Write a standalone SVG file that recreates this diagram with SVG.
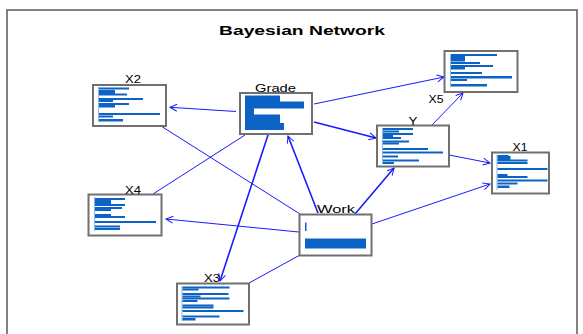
<svg xmlns="http://www.w3.org/2000/svg" width="583" height="334" viewBox="0 0 583 334">
  <style>
    .frame { fill: #ffffff; stroke: #5a5a5a; stroke-width: 1.5; }
    .title { font-family: "Liberation Sans", Arial, sans-serif; font-size: 13px; font-weight: bold; fill: #000; }
    .lbl { font-family: "Liberation Sans", Arial, sans-serif; font-size: 11px; fill: #000; text-anchor: middle; }
    .box { fill: #ffffff; stroke: #707070; stroke-width: 2; }
    .bar { fill: #0b63c6; }
    .axis { stroke: #8fb6e6; stroke-width: 1; }
    .edge { fill: none; stroke: #1a1aff; stroke-width: 1; }
    .edge.thick { stroke-width: 1.6; }
  </style>
  <defs>
    <marker id="arrow" markerUnits="userSpaceOnUse" markerWidth="10" markerHeight="10" refX="8" refY="4" orient="auto">
      <path d="M1,0.5 L8,4 L1,7.5" fill="none" stroke="#1a1aff" stroke-width="1"/>
    </marker>
  </defs>

  <rect width="583" height="334" fill="#ffffff"/>
  <rect class="frame" x="7" y="10" width="570" height="340"/>
  <text class="title" x="219" y="35" textLength="166" lengthAdjust="spacingAndGlyphs">Bayesian Network</text>

  <!-- connectors -->
  <g id="edges">
    <line class="edge" x1="236" y1="111.5" x2="170" y2="107.3" marker-end="url(#arrow)"/>
    <line class="edge" x1="314" y1="104" x2="444" y2="77" marker-end="url(#arrow)"/>
    <line class="edge thick" x1="314" y1="122" x2="376" y2="138" marker-end="url(#arrow)"/>
    <line class="edge thick" x1="268" y1="135" x2="220" y2="281" marker-end="url(#arrow)"/>
    <line class="edge" x1="245" y1="135" x2="153" y2="194"/>
    <line class="edge thick" x1="318" y1="213" x2="288" y2="136" marker-end="url(#arrow)"/>
    <line class="edge" x1="299" y1="232" x2="166" y2="219" marker-end="url(#arrow)"/>
    <line class="edge thick" x1="355" y1="214" x2="394" y2="168" marker-end="url(#arrow)"/>
    <line class="edge" x1="372" y1="224" x2="490" y2="184" marker-end="url(#arrow)"/>
    <line class="edge" x1="300" y1="255" x2="249" y2="283"/>
    <line class="edge" x1="161" y1="126" x2="300" y2="214"/>
    <line class="edge" x1="432" y1="125" x2="463" y2="93" marker-end="url(#arrow)"/>
    <line class="edge" x1="449" y1="155" x2="490" y2="163" marker-end="url(#arrow)"/>
  </g>

  <!-- X2 -->
  <g id="node-x2">
    <rect class="box" x="93" y="85" width="73" height="41"/>
    <line class="axis" x1="98.5" y1="87" x2="98.5" y2="122"/>
    <rect class="bar" x="99" y="87.5" width="30" height="2"/>
    <rect class="bar" x="99" y="90" width="16" height="4.5"/>
    <rect class="bar" x="99" y="93.5" width="28" height="2"/>
    <rect class="bar" x="99" y="98" width="44" height="2"/>
    <rect class="bar" x="99" y="100" width="14" height="2"/>
    <rect class="bar" x="99" y="103" width="30" height="2"/>
    <rect class="bar" x="99" y="105" width="16" height="2.5"/>
    <rect class="bar" x="99" y="113" width="61" height="2"/>
    <rect class="bar" x="99" y="115.5" width="14" height="2"/>
    <rect class="bar" x="99" y="119" width="24" height="2.5"/>
    <text class="lbl" x="133" y="83" textLength="16" lengthAdjust="spacingAndGlyphs">X2</text>
  </g>

  <!-- Grade -->
  <g id="node-grade">
    <rect class="box" x="240" y="93" width="72" height="41"/>
    <rect class="bar" x="245" y="95.5" width="35" height="6.5"/>
    <rect class="bar" x="245" y="101.5" width="59" height="7"/>
    <rect class="bar" x="245" y="108" width="9" height="7"/>
    <rect class="bar" x="245" y="114.5" width="35" height="9"/>
    <rect class="bar" x="245" y="123" width="39" height="7"/>
    <text class="lbl" x="275.5" y="92" textLength="41" lengthAdjust="spacingAndGlyphs">Grade</text>
  </g>

  <!-- X5 -->
  <g id="node-x5">
    <rect class="box" x="444.5" y="51" width="73" height="41"/>
    <line class="axis" x1="450.5" y1="54" x2="450.5" y2="87"/>
    <rect class="bar" x="451" y="54" width="46" height="2"/>
    <rect class="bar" x="451" y="56" width="14" height="5.5"/>
    <rect class="bar" x="451" y="62" width="29" height="2"/>
    <rect class="bar" x="451" y="65" width="42" height="2"/>
    <rect class="bar" x="451" y="67" width="14" height="2.5"/>
    <rect class="bar" x="451" y="72" width="31" height="2"/>
    <rect class="bar" x="451" y="76" width="61" height="2.5"/>
    <rect class="bar" x="451" y="79" width="16" height="2"/>
    <rect class="bar" x="451" y="84" width="36" height="2.5"/>
    <text class="lbl" x="436" y="103" textLength="15" lengthAdjust="spacingAndGlyphs">X5</text>
  </g>

  <!-- Y -->
  <g id="node-y">
    <rect class="box" x="377" y="125.5" width="72" height="41"/>
    <line class="axis" x1="382.5" y1="128" x2="382.5" y2="164"/>
    <rect class="bar" x="383" y="128" width="30" height="2"/>
    <rect class="bar" x="383" y="130.5" width="16" height="2"/>
    <rect class="bar" x="383" y="133" width="30" height="2"/>
    <rect class="bar" x="383" y="135" width="10" height="2"/>
    <rect class="bar" x="383" y="137" width="18" height="2"/>
    <rect class="bar" x="383" y="140.5" width="26" height="2"/>
    <rect class="bar" x="383" y="142.5" width="16" height="2"/>
    <rect class="bar" x="383" y="148" width="45" height="2"/>
    <rect class="bar" x="383" y="151.5" width="60" height="2"/>
    <rect class="bar" x="383" y="155.5" width="15" height="2"/>
    <rect class="bar" x="383" y="159.5" width="36" height="2"/>
    <rect class="bar" x="383" y="162" width="11" height="2"/>
    <text class="lbl" x="413" y="125" textLength="9" lengthAdjust="spacingAndGlyphs">Y</text>
  </g>

  <!-- X1 -->
  <g id="node-x1">
    <rect class="box" x="492" y="152.5" width="57" height="41"/>
    <line class="axis" x1="497" y1="155" x2="497" y2="190"/>
    <rect class="bar" x="497.5" y="155" width="11" height="2"/>
    <rect class="bar" x="497.5" y="156" width="13" height="4.5"/>
    <rect class="bar" x="497.5" y="159.5" width="30" height="2"/>
    <rect class="bar" x="497.5" y="162" width="30" height="2"/>
    <rect class="bar" x="497.5" y="168" width="50" height="2"/>
    <rect class="bar" x="497.5" y="174" width="10" height="2"/>
    <rect class="bar" x="497.5" y="176" width="30" height="2"/>
    <rect class="bar" x="497.5" y="179.5" width="50" height="2"/>
    <rect class="bar" x="497.5" y="182.5" width="20" height="2"/>
    <rect class="bar" x="497.5" y="185.5" width="12" height="2.5"/>
    <text class="lbl" x="520" y="151" textLength="15" lengthAdjust="spacingAndGlyphs">X1</text>
  </g>

  <!-- X4 -->
  <g id="node-x4">
    <rect class="box" x="88.5" y="194.5" width="73" height="41"/>
    <line class="axis" x1="94.5" y1="197" x2="94.5" y2="231"/>
    <rect class="bar" x="95" y="198" width="30" height="2"/>
    <rect class="bar" x="95" y="200" width="16" height="4.5"/>
    <rect class="bar" x="95" y="204" width="30" height="2"/>
    <rect class="bar" x="95" y="207" width="27" height="2"/>
    <rect class="bar" x="95" y="209" width="16" height="2"/>
    <rect class="bar" x="95" y="214" width="16" height="2"/>
    <rect class="bar" x="95" y="216" width="30" height="2"/>
    <rect class="bar" x="95" y="221" width="61" height="2"/>
    <rect class="bar" x="95" y="225.5" width="25" height="2"/>
    <rect class="bar" x="95" y="228" width="25" height="2"/>
    <text class="lbl" x="133" y="194" textLength="16" lengthAdjust="spacingAndGlyphs">X4</text>
  </g>

  <!-- Work -->
  <g id="node-work">
    <rect class="box" x="299.5" y="214.5" width="72" height="41"/>
    <rect class="bar" x="305" y="222.5" width="1.5" height="8.5"/>
    <rect class="bar" x="305" y="238.5" width="61" height="10"/>
    <text class="lbl" x="336" y="213" textLength="38" lengthAdjust="spacingAndGlyphs">Work</text>
  </g>

  <!-- X3 -->
  <g id="node-x3">
    <rect class="box" x="177" y="283.5" width="72" height="41"/>
    <line class="axis" x1="182" y1="286" x2="182" y2="321"/>
    <rect class="bar" x="182.5" y="286.5" width="47" height="2"/>
    <rect class="bar" x="182.5" y="288.5" width="16" height="2"/>
    <rect class="bar" x="182.5" y="293" width="46" height="2"/>
    <rect class="bar" x="182.5" y="295.5" width="18" height="2"/>
    <rect class="bar" x="182.5" y="297.5" width="47" height="2"/>
    <rect class="bar" x="182.5" y="300" width="15" height="2"/>
    <rect class="bar" x="182.5" y="304.5" width="31" height="2"/>
    <rect class="bar" x="182.5" y="306.5" width="31" height="2"/>
    <rect class="bar" x="182.5" y="310" width="61" height="2"/>
    <rect class="bar" x="182.5" y="315.5" width="37" height="2"/>
    <rect class="bar" x="182.5" y="318" width="13" height="2.5"/>
    <text class="lbl" x="212" y="282" textLength="16" lengthAdjust="spacingAndGlyphs">X3</text>
  </g>
</svg>
